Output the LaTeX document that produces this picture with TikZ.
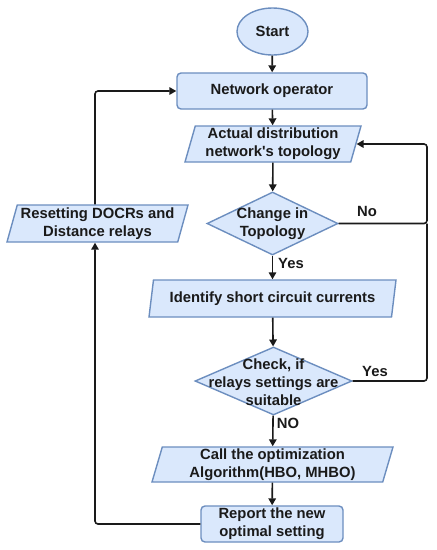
\documentclass[tikz,border=0pt]{standalone}
\usepackage{fontspec}
\setmainfont{Liberation Sans}[Ligatures=TeXOff]
\usetikzlibrary{shapes.geometric,arrows.meta}
\definecolor{boxfill}{HTML}{DAE8FC}
\definecolor{boxline}{HTML}{6C8EBF}
\definecolor{inkc}{HTML}{1A1A1A}
\begin{document}
\begin{tikzpicture}[x=1pt,y=-1pt,
 every node/.style={font=\fontsize{14.8}{17.8}\selectfont\bfseries, align=center, inner sep=0pt, text=inkc},
 base/.style={draw=boxline, fill=boxfill, line width=1.4pt},
 procbox/.style={base, rectangle, rounded corners=4pt},
 iobox/.style={base, trapezium, trapezium left angle=72, trapezium right angle=108, trapezium stretches body},
 decision/.style={base, diamond},
 term/.style={base, ellipse},
 conn/.style={draw=inkc, line width=1.6pt, rounded corners=3pt, -{Triangle[length=7pt,width=7.5pt]}},
 plainline/.style={draw=inkc, line width=1.6pt, rounded corners=3pt}
]
\useasboundingbox (0,0) rectangle (437,550);

\node[term, minimum width=71pt, minimum height=47pt] (start) at (272.5,31.5) {Start};
\node[procbox, minimum width=190pt, minimum height=36pt] (netop) at (272,91) {Network operator};
\node[iobox, minimum width=176pt, minimum height=36pt] (actual) at (273,144) {Actual distribution\\network's topology};
\node[decision, minimum width=131pt, minimum height=63pt] (change) at (272.5,223.5) {};
\node (changetxt) at (272.5,224) {Change in\\Topology};
\node[iobox, minimum width=247pt, minimum height=37pt] (identify) at (272.5,298.5) {Identify short circuit currents};
\node[decision, minimum width=157pt, minimum height=68pt] (check) at (273.5,381) {};
\node (checktxt) at (273.5,382) {Check, if\\relays settings are\\suitable};
\node[iobox, minimum width=241pt, minimum height=35pt] (call) at (272.5,464.5) {Call the optimization\\Algorithm(HBO, MHBO)};
\node[procbox, minimum width=142pt, minimum height=36pt] (report) at (272,524) {Report the new\\optimal setting};
\node[iobox, minimum width=181pt, minimum height=37pt] (reset) at (97.5,223.5) {Resetting DOCRs and\\Distance relays};

\coordinate (rx) at (427,223.5);
\coordinate (lxb) at (95,524);
\coordinate (lxt) at (95,91);

\draw[conn] (start) -- (netop);
\draw[conn] (netop) -- (actual);
\draw[conn] (actual) -- (change);
\draw[conn] (change) -- (identify);
\draw[conn] (identify) -- (check);
\draw[conn] (check) -- (call);
\draw[conn] (call) -- (report);
\draw[conn] (change.east) -- (rx) |- (actual.east);
\draw[plainline] (check.east) -| (rx);
\draw[conn] (report.west) -- (lxb) -- (lxb |- reset.south);
\draw[conn] (lxt |- reset.north) -- (lxt) -- (netop.west);

\node (yes1) at (291,263) {Yes};
\node (no1) at (367,211) {No};
\node (yes2) at (375,371) {Yes};
\node (no2) at (288,423) {NO};
\end{tikzpicture}
\end{document}
